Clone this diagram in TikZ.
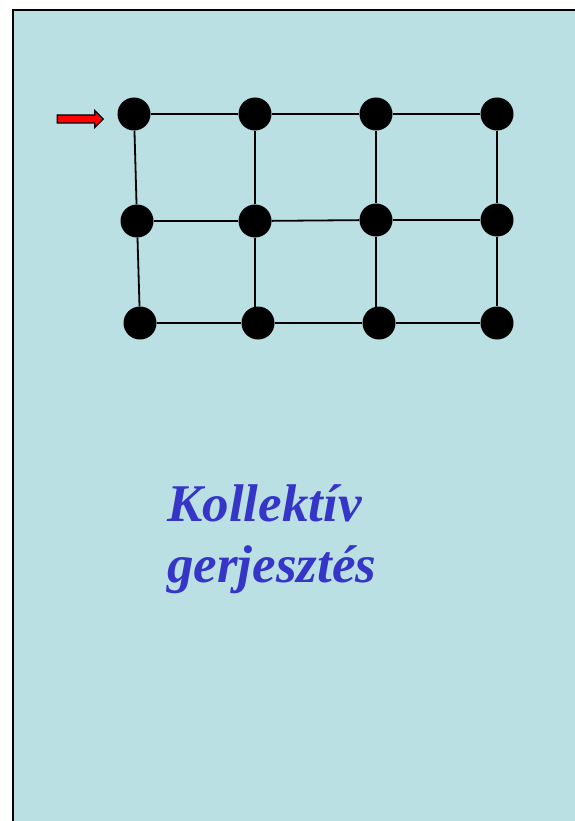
\documentclass[tikz,border=0pt]{standalone}
\usepackage{fontspec}
\setmainfont{Liberation Serif}
\usetikzlibrary{shapes.arrows}
\definecolor{panelbg}{HTML}{BAE0E3}
\definecolor{textblue}{HTML}{3535C8}
\definecolor{arrowred}{HTML}{FF0000}
\begin{document}
\begin{tikzpicture}[x=1pt,y=-1pt,
  dot/.style={circle,fill=black,inner sep=0pt,minimum size=33pt},
  link/.style={draw=black,line width=1.8pt},
  lbl/.style={text=textblue,font=\fontsize{53}{61}\selectfont\bfseries\itshape,align=left,anchor=north west,inner sep=0pt}]
\useasboundingbox (0,0) rectangle (574,821);
\fill[white] (0,0) rectangle (574,821);
\draw[fill=panelbg,line width=2pt] (13,10) rectangle (580,830);
% nodes
\node[dot] (a1) at (134,114) {};
\node[dot] (a2) at (255,114) {};
\node[dot] (a3) at (376,114) {};
\node[dot] (a4) at (497,114) {};
\node[dot] (b1) at (137,221) {};
\node[dot] (b2) at (255,221) {};
\node[dot] (b3) at (376,220) {};
\node[dot] (b4) at (497,220) {};
\node[dot] (c1) at (140,323) {};
\node[dot] (c2) at (258,323) {};
\node[dot] (c3) at (379,323) {};
\node[dot] (c4) at (497,323) {};
% links
\foreach \u/\v in {a1/a2,a2/a3,a3/a4,b1/b2,b2/b3,b3/b4,c1/c2,c2/c3,c3/c4,a1/b1,b1/c1,a2/b2,a3/b3,a4/b4,b4/c4}
  \draw[link] (\u) -- (\v);
\draw[link] (b2) -- (b2 |- c2.center);
\draw[link] (b3) -- (b3 |- c3.center);
% arrow
\node[single arrow,draw=black,fill=arrowred,line width=1.2pt,minimum height=46pt,
  single arrow head extend=4.5pt,single arrow head indent=0pt,inner xsep=1pt,inner ysep=3.4pt,
  anchor=tip] (arr) at (104,119) {};
% text
\node[lbl] (t) at (167,484) {Kollektív\\gerjesztés};
\end{tikzpicture}
\end{document}
